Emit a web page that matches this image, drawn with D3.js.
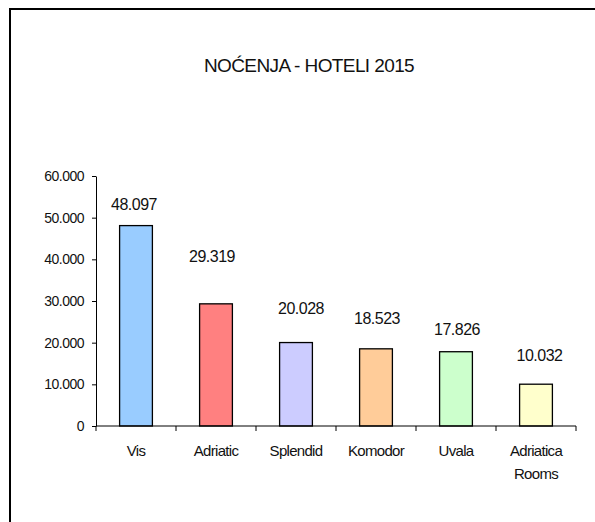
<!DOCTYPE html>
<html>
<head>
<meta charset="utf-8">
<script src="https://cdn.jsdelivr.net/npm/d3@7"></script>
<style>
  html, body { margin: 0; padding: 0; background: #fff; }
  svg { display: block; font-family: "Liberation Sans", Arial, sans-serif; }
</style>
</head>
<body>
<svg id="chart" width="595" height="522"></svg>
<script>
// ---- data ----
const title = "NOĆENJA - HOTELI 2015";
const categories = ["Vis", "Adriatic", "Splendid", "Komodor", "Uvala", "Adriatica Rooms"];
const values = [48097, 29319, 20028, 18523, 17826, 10032];
const colors = ["#99CCFF", "#FF8080", "#CCCCFF", "#FFCC99", "#CCFFCC", "#FFFFCC"];
const yTicks = [0, 10000, 20000, 30000, 40000, 50000, 60000];
// label placement (layout, pixels relative to bar centre/top)
const labelShift = [[-2, -22], [-4, -48], [5, -35], [1, -31], [1, -23], [3.5, -29]];

const svg = d3.select("#chart");
const locale = d3.formatLocale({decimal: ",", thousands: ".", grouping: [3], currency: ["", ""]});
const fmt = locale.format(",d");

// border (top and left visible)
svg.append("line").attr("x1", 9).attr("x2", 595).attr("y1", 9).attr("y2", 9)
  .attr("stroke", "#000").attr("stroke-width", 2);
svg.append("line").attr("x1", 10).attr("x2", 10).attr("y1", 8).attr("y2", 522)
  .attr("stroke", "#000").attr("stroke-width", 2);

svg.append("text").attr("x", 309).attr("y", 72).attr("text-anchor", "middle")
  .attr("font-size", 19).attr("letter-spacing", -0.6).attr("fill", "#111").text(title);

const x = d3.scaleBand().domain(categories).range([96, 576]).padding(0);
const y = d3.scaleLinear().domain([0, 60000]).range([426, 176]);
const barW = x.bandwidth() * 0.41;

// bars
svg.append("g").selectAll("rect").data(values).join("rect")
  .attr("x", (d, i) => x(categories[i]) + x.bandwidth() / 2 - barW / 2)
  .attr("y", d => y(d))
  .attr("width", barW)
  .attr("height", d => y(0) - y(d))
  .attr("fill", (d, i) => colors[i])
  .attr("stroke", "#000").attr("stroke-width", 1.3);

// y axis
const yAxis = svg.append("g").attr("transform", "translate(96,0)")
  .call(d3.axisLeft(y).tickValues(yTicks).tickFormat(fmt).tickSize(4).tickSizeOuter(0).tickPadding(8));
yAxis.select(".domain").attr("stroke", "#000");
yAxis.selectAll("line").attr("stroke", "#000");
yAxis.selectAll("text").attr("font-size", 14).attr("letter-spacing", -0.5).attr("fill", "#111")
  .attr("font-family", "Liberation Sans, Arial, sans-serif");

// x axis: ticks between categories
const xAxisG = svg.append("g");
xAxisG.append("line").attr("x1", 96).attr("x2", 576).attr("y1", 426).attr("y2", 426)
  .attr("stroke", "#000").attr("stroke-width", 1);
const boundaries = categories.map(c => x(c)).concat([x(categories[categories.length - 1]) + x.bandwidth()]);
xAxisG.selectAll("line.tk").data(boundaries).join("line").attr("class", "tk")
  .attr("x1", d => d).attr("x2", d => d).attr("y1", 426).attr("y2", 431)
  .attr("stroke", "#000");
xAxisG.selectAll("text").data(categories).join("text")
  .attr("x", d => x(d) + x.bandwidth() / 2)
  .attr("y", 456)
  .attr("text-anchor", "middle")
  .attr("font-size", 15)
  .attr("letter-spacing", -0.7)
  .attr("fill", "#111")
  .each(function(d) {
    const parts = d.split(" ");
    const t = d3.select(this);
    parts.forEach((p, k) => {
      t.append("tspan").attr("x", x(d) + x.bandwidth() / 2).attr("dy", k === 0 ? 0 : 23).text(p);
    });
  });

// data labels
svg.append("g").selectAll("text").data(values).join("text")
  .attr("x", (d, i) => x(categories[i]) + x.bandwidth() / 2 + labelShift[i][0])
  .attr("y", (d, i) => y(d) + labelShift[i][1] + 6)
  .attr("text-anchor", "middle")
  .attr("font-size", 16)
  .attr("letter-spacing", -0.5)
  .attr("fill", "#111")
  .text(d => fmt(d));
</script>
</body>
</html>
